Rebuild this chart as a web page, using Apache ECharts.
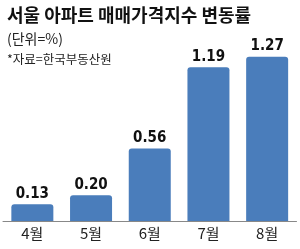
<!DOCTYPE html>
<html>
<head>
<meta charset="utf-8">
<script src="https://cdn.jsdelivr.net/npm/echarts@6/dist/echarts.min.js"></script>
<style>
  html, body { margin: 0; padding: 0; background: #fff; }
  #main { width: 300px; height: 249px; }
</style>
</head>
<body>
<div id="main"></div>
<script>
  // 월별 카테고리
  var months = ['4월', '5월', '6월', '7월', '8월'];
  // 변동률 (%)
  var rates = [0.13, 0.20, 0.56, 1.19, 1.27];
  var rateLabels = ['0.13', '0.20', '0.56', '1.19', '1.27'];

  var myChart = echarts.init(document.getElementById('main'));
  var option = {
    backgroundColor: '#fff',
    animation: false,
    title: [{
      text: '서울 아파트 매매가격지수 변동률',
      left: 2,
      top: 1,
      textStyle: {
        fontFamily: 'Noto Sans CJK KR',
        fontSize: 18,
        fontWeight: 'bold',
        color: '#111'
      }
    }, {
      text: '(단위=%)',
      left: 2,
      top: 27,
      textStyle: {
        fontFamily: 'Noto Sans CJK KR',
        fontSize: 14,
        fontWeight: 'normal',
        color: '#222'
      }
    }, {
      text: '*자료=한국부동산원',
      left: 2,
      top: 48,
      textStyle: {
        fontFamily: 'Noto Sans CJK KR',
        fontSize: 12.5,
        fontWeight: 'normal',
        color: '#222'
      }
    }],
    grid: {
      left: 3,
      right: 3.5,
      top: 40,
      bottom: 28
    },
    xAxis: {
      type: 'category',
      data: months,
      axisLine: { lineStyle: { color: '#888', width: 1 } },
      axisTick: { show: false },
      axisLabel: {
        margin: 5,
        fontFamily: 'Noto Sans CJK KR',
        fontSize: 15,
        color: '#222'
      }
    },
    yAxis: {
      type: 'value',
      min: 0,
      max: 1.4,
      show: false,
      splitLine: { show: false }
    },
    series: [{
      type: 'bar',
      data: rates,
      barWidth: 42,
      itemStyle: {
        color: '#4a7dbb',
        borderRadius: [3, 3, 0, 0]
      },
      label: {
        show: true,
        position: 'top',
        distance: 3,
        fontFamily: '"DejaVu Sans Condensed", "Liberation Sans", sans-serif',
        fontWeight: 'bold',
        fontSize: 15,
        color: '#111',
        formatter: function (p) {
          return rateLabels[p.dataIndex];
        }
      }
    }]
  };
  myChart.setOption(option, true);
</script>
</body>
</html>
